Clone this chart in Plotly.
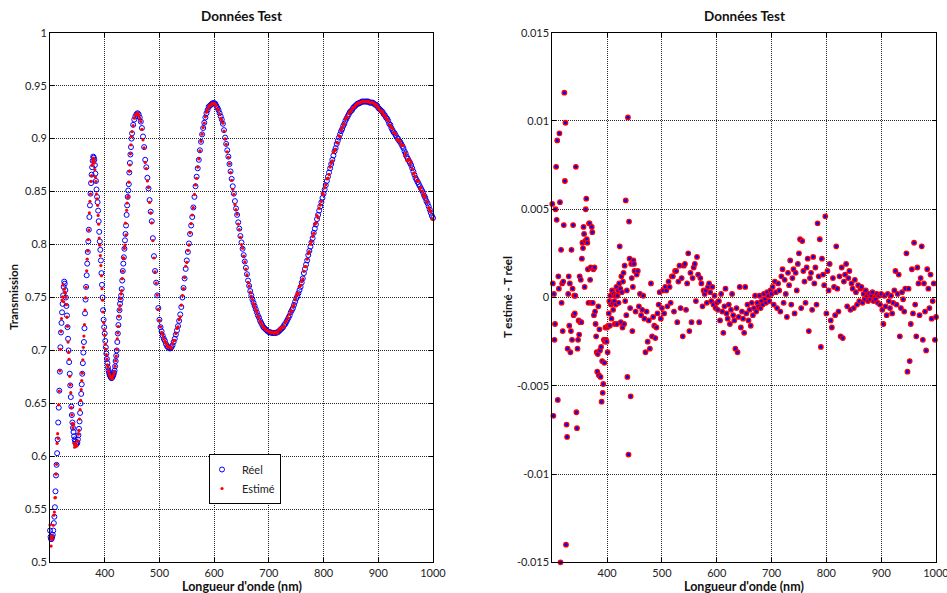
import plotly.graph_objects as go

# ---------------- data ----------------
# wavelength grid: 1 nm steps in the UV part, 2 nm steps in the visible part
WL_UV = list(range(300, 450))
WL_VIS = list(range(450, 1001, 2))

# measured transmission (Réel)
T_UV = [
    0.530, 0.524, 0.522, 0.522, 0.524, 0.526, 0.530, 0.537, 0.543, 0.552,
    0.567, 0.582, 0.592, 0.603, 0.616, 0.632, 0.646, 0.662, 0.680, 0.703,
    0.717, 0.726, 0.736, 0.744, 0.752, 0.760, 0.765, 0.763, 0.757, 0.750,
    0.742, 0.733, 0.722, 0.711, 0.700, 0.689, 0.678, 0.667, 0.656, 0.647,
    0.639, 0.632, 0.627, 0.623, 0.619, 0.616, 0.614, 0.612, 0.6115, 0.612,
    0.613, 0.616, 0.620, 0.626, 0.633, 0.641, 0.650, 0.659, 0.668, 0.678,
    0.688, 0.698, 0.708, 0.721, 0.735, 0.748, 0.760, 0.771, 0.782, 0.793,
    0.803, 0.814, 0.826, 0.837, 0.848, 0.858, 0.866, 0.873, 0.879, 0.883,
    0.882, 0.880, 0.875, 0.867, 0.860, 0.852, 0.845, 0.840, 0.832, 0.822,
    0.812, 0.803, 0.795, 0.785, 0.773, 0.762, 0.750, 0.738, 0.729, 0.722,
    0.716, 0.709, 0.703, 0.697, 0.692, 0.688, 0.684, 0.681, 0.679, 0.677,
    0.676, 0.675, 0.674, 0.674, 0.675, 0.676, 0.677, 0.679, 0.681, 0.685,
    0.690, 0.695, 0.700, 0.708, 0.716, 0.724, 0.731, 0.738, 0.744, 0.748,
    0.752, 0.758, 0.766, 0.775, 0.782, 0.788, 0.796, 0.804, 0.810, 0.818,
    0.828, 0.837, 0.845, 0.851, 0.857, 0.868, 0.877, 0.885, 0.892, 0.900,
]
T_VIS = [
    0.905, 0.913, 0.918, 0.921, 0.923, 0.924, 0.923, 0.920, 0.916, 0.910,
    0.902, 0.892, 0.880, 0.873, 0.863, 0.853, 0.842, 0.831, 0.822, 0.806,
    0.789, 0.775, 0.764, 0.752, 0.740, 0.729, 0.722, 0.718, 0.714, 0.711,
    0.709, 0.706, 0.704, 0.703, 0.702, 0.702, 0.703, 0.705, 0.708, 0.711,
    0.715, 0.719, 0.723, 0.728, 0.734, 0.741, 0.750, 0.759, 0.768, 0.777,
    0.785, 0.793, 0.801, 0.810, 0.818, 0.826, 0.835, 0.845, 0.855, 0.864,
    0.872, 0.880, 0.889, 0.897, 0.904, 0.910, 0.915, 0.920, 0.924, 0.927,
    0.930, 0.931, 0.932, 0.933, 0.9335, 0.9335, 0.933, 0.931, 0.929, 0.927,
    0.924, 0.921, 0.918, 0.914, 0.908, 0.901, 0.895, 0.889, 0.883, 0.876,
    0.869, 0.862, 0.855, 0.848, 0.841, 0.834, 0.828, 0.821, 0.815, 0.808,
    0.802, 0.796, 0.790, 0.784, 0.778, 0.772, 0.766, 0.761, 0.756, 0.752,
    0.748, 0.745, 0.742, 0.739, 0.736, 0.733, 0.731, 0.728, 0.726, 0.724,
    0.722, 0.721, 0.720, 0.719, 0.718, 0.7175, 0.717, 0.717, 0.7165, 0.7165,
    0.7165, 0.7165, 0.717, 0.717, 0.718, 0.719, 0.720, 0.721, 0.722, 0.724,
    0.725, 0.727, 0.729, 0.731, 0.733, 0.736, 0.738, 0.740, 0.743, 0.746,
    0.749, 0.751, 0.754, 0.757, 0.760, 0.764, 0.768, 0.773, 0.777, 0.781,
    0.785, 0.790, 0.794, 0.798, 0.802, 0.806, 0.811, 0.815, 0.819, 0.824,
    0.828, 0.832, 0.836, 0.840, 0.844, 0.848, 0.852, 0.856, 0.860, 0.864,
    0.868, 0.872, 0.876, 0.880, 0.884, 0.888, 0.891, 0.895, 0.898, 0.901,
    0.904, 0.907, 0.909, 0.912, 0.914, 0.917, 0.919, 0.921, 0.923, 0.925,
    0.926, 0.927, 0.929, 0.930, 0.931, 0.932, 0.933, 0.933, 0.934, 0.934,
    0.935, 0.935, 0.935, 0.935, 0.935, 0.935, 0.935, 0.934, 0.934, 0.934,
    0.934, 0.933, 0.932, 0.932, 0.931, 0.929, 0.928, 0.927, 0.926, 0.925,
    0.923, 0.922, 0.920, 0.919, 0.917, 0.914, 0.913, 0.910, 0.908, 0.906,
    0.905, 0.903, 0.901, 0.900, 0.898, 0.897, 0.895, 0.893, 0.891, 0.888,
    0.886, 0.883, 0.881, 0.879, 0.877, 0.875, 0.872, 0.869, 0.866, 0.863,
    0.861, 0.859, 0.857, 0.855, 0.853, 0.851, 0.849, 0.846, 0.844, 0.841,
    0.839, 0.836, 0.833, 0.830, 0.827, 0.825,
]

# T estimé - T réel
D_UV = [
    0.0053, 0.0008, -0.0067, 0.0002, -0.0024, -0.0015, 0.0050, 0.0074, 0.0044, 0.0089,
    -0.0058, 0.0012, 0.0005, 0.0093, 0.0054, -0.0150, 0.0027, -0.0003, 0.0008, -0.0019,
    0.0009, 0.0041, 0.0116, 0.0066, 0.0099, -0.0140, -0.0072, -0.0079, -0.0029, 0.0002,
    0.0012, -0.0016, 0.0008, -0.0031, -0.0019, 0.0027, -0.0024, 0.0005, 0.0041, -0.0010,
    0.0001, -0.0009, 0.0001, 0.0074, -0.0065, -0.0074, -0.0029, -0.0024, -0.0013, -0.0021,
    0.0012, -0.0014, 0.0010, -0.0014, 0.0022, 0.0031, 0.0028, 0.0040, 0.0036, 0.0006,
    0.0032, 0.0050, 0.0056, 0.0033, 0.0031, 0.0016, -0.0003, 0.0042, 0.0042, 0.0010,
    0.0017, -0.0003, 0.0040, 0.0037, -0.0003, 0.0016, -0.0010, 0.0017, -0.0008, -0.0015,
    -0.0022, -0.0031, -0.0042, -0.0032, -0.0005, -0.0044, -0.0018, -0.0030, -0.0045, -0.0028,
    -0.0059, -0.0036, -0.0054, -0.0049, -0.0024, -0.0037, -0.0025, -0.0017, -0.0024, -0.0025,
    -0.0017, -0.0031, -0.0016, -0.0009, -0.0002, -0.0016, 0.0001, -0.0004, -0.0012, 0.0004,
    -0.0003, -0.0007, 0.0002, -0.0002, -0.0015, 0.0001, -0.0004, 0.0006, -0.0015, 0.0001,
    0.0004, -0.0003, 0.0008, 0.0029, 0.0005, -0.0014, 0.0012, 0.0003, -0.0017, 0.0009,
    0.0014, -0.0015, 0.0018, -0.0002, 0.0055, -0.0010, 0.0004, -0.0045, 0.0102, -0.0089,
    0.0043, 0.0022, -0.0006, -0.0056, 0.0019, 0.0011, -0.0019, 0.0006, 0.0021, 0.0019,
]
D_VIS = [
    0.0015, -0.0008, 0.0013, 0.0015, -0.0005, 0.0002, -0.0010, -0.0007, 0.0001, -0.0012,
    -0.0031, -0.0008, -0.0025, -0.0013, -0.0029, 0.0008, -0.0022, -0.0011, -0.0016, -0.0023,
    -0.0017, -0.0009, -0.0004, 0.0003, -0.0012, -0.0006, 0.0004, -0.0009, 0.0006, 0.0004,
    -0.0005, 0.0009, 0.0006, -0.0003, 0.0012, 0.0012, -0.0008, 0.0015, 0.0015, -0.0014,
    0.0009, 0.0018, -0.0006, 0.0011, -0.0022, 0.0018, 0.0019, -0.0007, 0.0008, 0.0025,
    -0.0019, 0.0014, -0.0014, 0.0011, 0.0017, 0.0019, -0.0002, 0.0023, 0.0013, -0.0014,
    0.0011, 0.0008, -0.0005, 0.0004, 0.0002, 0.0004, -0.0003, 0.0006, 0.0008, 0.0003,
    -0.0002, 0.0006, -0.0004, 0.0001, -0.0006, -0.0003, -0.0007, -0.0002, -0.0013, 0.0002,
    -0.0008, -0.0020, -0.0005, 0.0005, -0.0009, -0.0012, -0.0004, -0.0015, -0.0007, 0.0002,
    -0.0010, -0.0013, -0.0029, -0.0006, -0.0031, -0.0011, 0.0006, -0.0017, -0.0008, -0.0012,
    -0.0020, 0.0006, -0.0009, -0.0004, -0.0013, -0.0007, -0.0016, -0.0003, -0.0010, -0.0006,
    0.0001, -0.0008, -0.0003, -0.0005, 0.0001, -0.0006, -0.0002, -0.0004, 0.0002, -0.0001,
    -0.0003, 0.0003, 0.0001, -0.0002, 0.0004, 0.0002, 0.0006, -0.0004, 0.0009, 0.0003,
    -0.0006, 0.0008, 0.0004, -0.0008, 0.0012, 0.0016, -0.0003, 0.0010, 0.0002, -0.0011,
    0.0014, 0.0007, 0.0021, -0.0004, 0.0011, 0.0016, -0.0009, 0.0014, 0.0004, 0.0019,
    0.0025, 0.0033, -0.0006, 0.0032, 0.0015, 0.0009, -0.0003, 0.0017, 0.0022, -0.0019,
    0.0011, 0.0014, -0.0007, 0.0023, 0.0008, 0.0017, -0.0004, 0.0042, 0.0012, 0.0033,
    -0.0028, 0.0022, 0.0013, 0.0007, 0.0046, -0.0009, 0.0015, 0.0004, 0.0019, -0.0013,
    -0.0017, 0.0011, 0.0006, -0.0010, 0.0029, 0.0005, -0.0008, 0.0012, -0.0022, 0.0017,
    -0.0023, 0.0009, 0.0013, 0.0019, -0.0005, 0.0011, 0.0015, -0.0007, 0.0008, 0.0005,
    -0.0006, 0.0010, 0.0003, -0.0004, 0.0007, -0.0002, 0.0005, 0.0006, -0.0003, 0.0002,
    -0.0001, 0.0004, 0.0001, -0.0002, 0.0002, -0.0001, 0.0001, 0.0003, -0.0002, 0.0000,
    -0.0001, 0.0002, -0.0003, 0.0001, -0.0004, 0.0002, -0.0007, -0.0015, 0.0001, -0.0005,
    -0.0010, 0.0002, -0.0002, -0.0006, 0.0001, -0.0009, -0.0003, 0.0004, 0.0015, -0.0004,
    0.0002, 0.0013, -0.0022, -0.0006, 0.0003, -0.0001, -0.0008, 0.0005, 0.0025, -0.0042,
    0.0005, -0.0036, -0.0015, 0.0016, -0.0009, 0.0031, -0.0004, -0.0022, 0.0017, 0.0008,
    -0.0010, 0.0011, 0.0029, -0.0024, 0.0008, -0.0008, -0.0030, 0.0016, 0.0005, -0.0006,
    0.0013, -0.0012, -0.0002, 0.0008, -0.0024, -0.0011,
]

X_TICKS = [400, 500, 600, 700, 800, 900, 1000]
Y1_TICKS = [0.5, 0.55, 0.6, 0.65, 0.7, 0.75, 0.8, 0.85, 0.9, 0.95, 1.0]
Y1_TEXT = ["0.5", "0.55", "0.6", "0.65", "0.7", "0.75", "0.8", "0.85", "0.9", "0.95", "1"]
Y2_TICKS = [-0.015, -0.01, -0.005, 0, 0.005, 0.01, 0.015]
Y2_TEXT = ["-0.015", "-0.01", "-0.005", "0", "0.005", "0.01", "0.015"]

TITLE = "Données Test"
XLABEL = "Longueur d'onde (nm)"
Y1LABEL = "Transmission"
Y2LABEL = "T estimé - T réel"

# ---------------- assemble ----------------
wl_all = WL_UV + WL_VIS
t_all = T_UV + T_VIS
d_all = D_UV + D_VIS
n = min(len(wl_all), len(t_all), len(d_all))
wl = wl_all[:n]
t_reel = t_all[:n]
diff = d_all[:n]
t_est = [a + b for a, b in zip(t_reel, diff)]

FONT = "Lato, 'Open Sans', 'DejaVu Sans', sans-serif"
W, H = 947, 593

fig = go.Figure()

fig.add_trace(go.Scatter(
    x=wl, y=t_reel, mode="markers", name="Réel",
    marker=dict(symbol="circle-open", size=5, color="#0000ff", line=dict(width=1, color="#0000ff")),
    xaxis="x", yaxis="y", cliponaxis=False,
))
fig.add_trace(go.Scatter(
    x=wl, y=t_est, mode="markers", name="Estimé",
    marker=dict(symbol="circle", size=3.2, color="#ff0000"),
    xaxis="x", yaxis="y", cliponaxis=False,
))
fig.add_trace(go.Scatter(
    x=wl, y=diff, mode="markers", name="diff", showlegend=False,
    marker=dict(symbol="circle", size=4.5, color="#0000ff", line=dict(width=1.3, color="#ff0000")),
    xaxis="x2", yaxis="y2", cliponaxis=False,
))


def px_x(p):
    return p / W


def px_y(p):
    return 1 - p / H


axis_common = dict(
    showline=True, linecolor="black", linewidth=1, mirror="ticks",
    ticks="inside", ticklen=4, tickcolor="black", tickwidth=1,
    showgrid=True, gridcolor="rgba(0,0,0,0.85)", griddash="1px,1px", gridwidth=1,
    zeroline=False, automargin=False, ticklabeloverflow="allow",
    tickfont=dict(family=FONT, size=11, color="#222"),
)

fig.update_layout(
    width=W, height=H,
    margin=dict(l=0, r=0, t=0, b=0),
    paper_bgcolor="white", plot_bgcolor="white",
    font=dict(family=FONT, size=11, color="#222"),
    xaxis=dict(domain=[px_x(50), px_x(433)], range=[300, 1000], tickvals=X_TICKS,
               anchor="y", ticklabelstandoff=0, **axis_common),
    yaxis=dict(domain=[px_y(562.3), px_y(32.7)], range=[0.5, 1.0], tickvals=Y1_TICKS,
               ticktext=Y1_TEXT, anchor="x", ticklabelstandoff=0, **axis_common),
    xaxis2=dict(domain=[px_x(552.3), px_x(936)], range=[300, 1000], tickvals=X_TICKS,
                anchor="y2", ticklabelstandoff=0, **axis_common),
    yaxis2=dict(domain=[px_y(562.3), px_y(32.7)], range=[-0.015, 0.015], tickvals=Y2_TICKS,
                ticktext=Y2_TEXT, anchor="x2", ticklabelstandoff=0, **axis_common),
    legend=dict(x=px_x(209), y=px_y(454), xanchor="left", yanchor="top",
                bgcolor="white", bordercolor="black", borderwidth=1,
                font=dict(family=FONT, size=11, color="#222"),
                itemwidth=30, tracegroupgap=0, indentation=-8),
    showlegend=True,
)

ann = []
for cx in (241.5, 744):
    ann.append(dict(text="<b>" + TITLE + "</b>", x=px_x(cx), y=px_y(16), xref="paper", yref="paper",
                    showarrow=False, xanchor="center", yanchor="middle",
                    font=dict(family=FONT, size=13.5, color="#111")))
    ann.append(dict(text="<b>" + XLABEL + "</b>", x=px_x(cx), y=px_y(586), xref="paper", yref="paper",
                    showarrow=False, xanchor="center", yanchor="middle",
                    font=dict(family=FONT, size=12.5, color="#111")))
ann.append(dict(text="<b>" + Y1LABEL + "</b>", x=px_x(13), y=px_y(297), xref="paper", yref="paper",
                showarrow=False, textangle=-90, xanchor="center", yanchor="middle",
                font=dict(family=FONT, size=11.5, color="#111")))
ann.append(dict(text="<b>" + Y2LABEL + "</b>", x=px_x(507), y=px_y(297), xref="paper", yref="paper",
                showarrow=False, textangle=-90, xanchor="center", yanchor="middle",
                font=dict(family=FONT, size=11.5, color="#111")))
fig.update_layout(annotations=ann)

fig.write_html(
    "out.html",
    config={"displayModeBar": False},
    post_script="document.body.style.margin='0';document.body.style.padding='0';"
                "document.documentElement.style.overflow='hidden';",
)
